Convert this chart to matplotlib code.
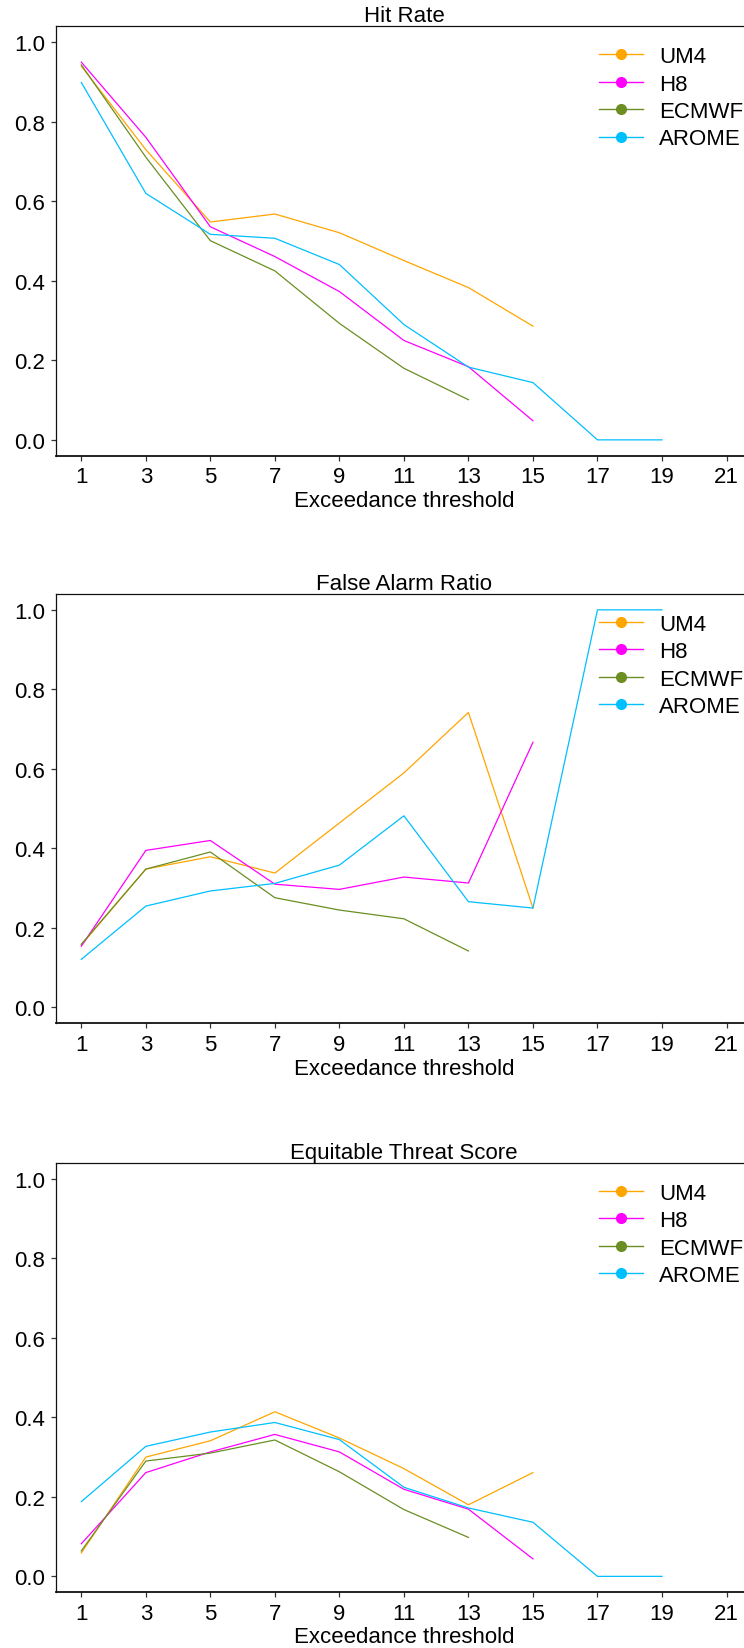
# Verification scores vs exceedance threshold for four models
import matplotlib.pyplot as plt

plt.rcParams['font.family'] = ['Liberation Sans', 'DejaVu Sans']
plt.rcParams['font.size'] = 16

models = ['UM4', 'H8', 'ECMWF', 'AROME']
colors = ['orange', 'magenta', 'olivedrab', 'deepskyblue']
thresholds = [1, 3, 5, 7, 9, 11, 13, 15, 17, 19]

# Hit rate
hr_um4 = [0.94, 0.73, 0.548, 0.568, 0.521, 0.451, 0.383, 0.286]
hr_h8 = [0.95, 0.761, 0.536, 0.461, 0.373, 0.25, 0.184, 0.048]
hr_ecmwf = [0.943, 0.711, 0.501, 0.425, 0.293, 0.18, 0.101]
hr_arome = [0.899, 0.62, 0.517, 0.507, 0.441, 0.29, 0.183, 0.144, 0.0, 0.0]

# False alarm ratio
far_um4 = [0.157, 0.348, 0.379, 0.338, 0.464, 0.59, 0.742, 0.25]
far_h8 = [0.154, 0.395, 0.42, 0.31, 0.297, 0.328, 0.313, 0.667]
far_ecmwf = [0.159, 0.348, 0.391, 0.276, 0.245, 0.223, 0.142]
far_arome = [0.121, 0.255, 0.293, 0.312, 0.358, 0.482, 0.266, 0.25, 1.0, 1.0]

# Equitable threat score
ets_um4 = [0.059, 0.3, 0.341, 0.414, 0.348, 0.271, 0.18, 0.261]
ets_h8 = [0.082, 0.261, 0.313, 0.357, 0.313, 0.219, 0.169, 0.044]
ets_ecmwf = [0.064, 0.29, 0.31, 0.343, 0.263, 0.168, 0.098]
ets_arome = [0.188, 0.327, 0.363, 0.387, 0.344, 0.224, 0.172, 0.136, 0.0, 0.0]

panels = [
    ('Hit Rate', [hr_um4, hr_h8, hr_ecmwf, hr_arome]),
    ('False Alarm Ratio', [far_um4, far_h8, far_ecmwf, far_arome]),
    ('Equitable Threat Score', [ets_um4, ets_h8, ets_ecmwf, ets_arome]),
]
bottoms = [0.7230, 0.3788, 0.0338]

fig = plt.figure(figsize=(7.44, 16.49), dpi=100)

for (title, series), bottom in zip(panels, bottoms):
    ax = fig.add_axes([0.0746, bottom, 0.9366, 0.2604])
    for name, col, vals in zip(models, colors, series):
        ax.plot(thresholds[:len(vals)], vals, color=col, linewidth=0.9)
        # legend handle with marker only
        ax.plot([], [], color=col, linewidth=1.0, marker='o', markersize=7, label=name)
    ax.set_xlim(0.2, 21.8)
    ax.set_ylim(-0.04, 1.04)
    ax.set_xticks(range(1, 22, 2))
    ax.set_yticks([0.0, 0.2, 0.4, 0.6, 0.8, 1.0])
    ax.set_yticklabels(['0.0', '0.2', '0.4', '0.6', '0.8', '1.0'])
    ax.set_title(title, fontsize=16, pad=2)
    ax.set_xlabel('Exceedance threshold', labelpad=2)
    for s in ax.spines.values():
        s.set_color('#111111')
        s.set_linewidth(0.9)
    ax.spines['bottom'].set_linewidth(1.3)
    ax.tick_params(direction='out', color='#333333', width=0.9, pad=4)
    ax.legend(loc='upper left', bbox_to_anchor=(0.78, 0.954), frameon=False,
              borderpad=0, borderaxespad=0, handletextpad=0.7, labelspacing=0.29)

fig.savefig('out.png', dpi=100)
